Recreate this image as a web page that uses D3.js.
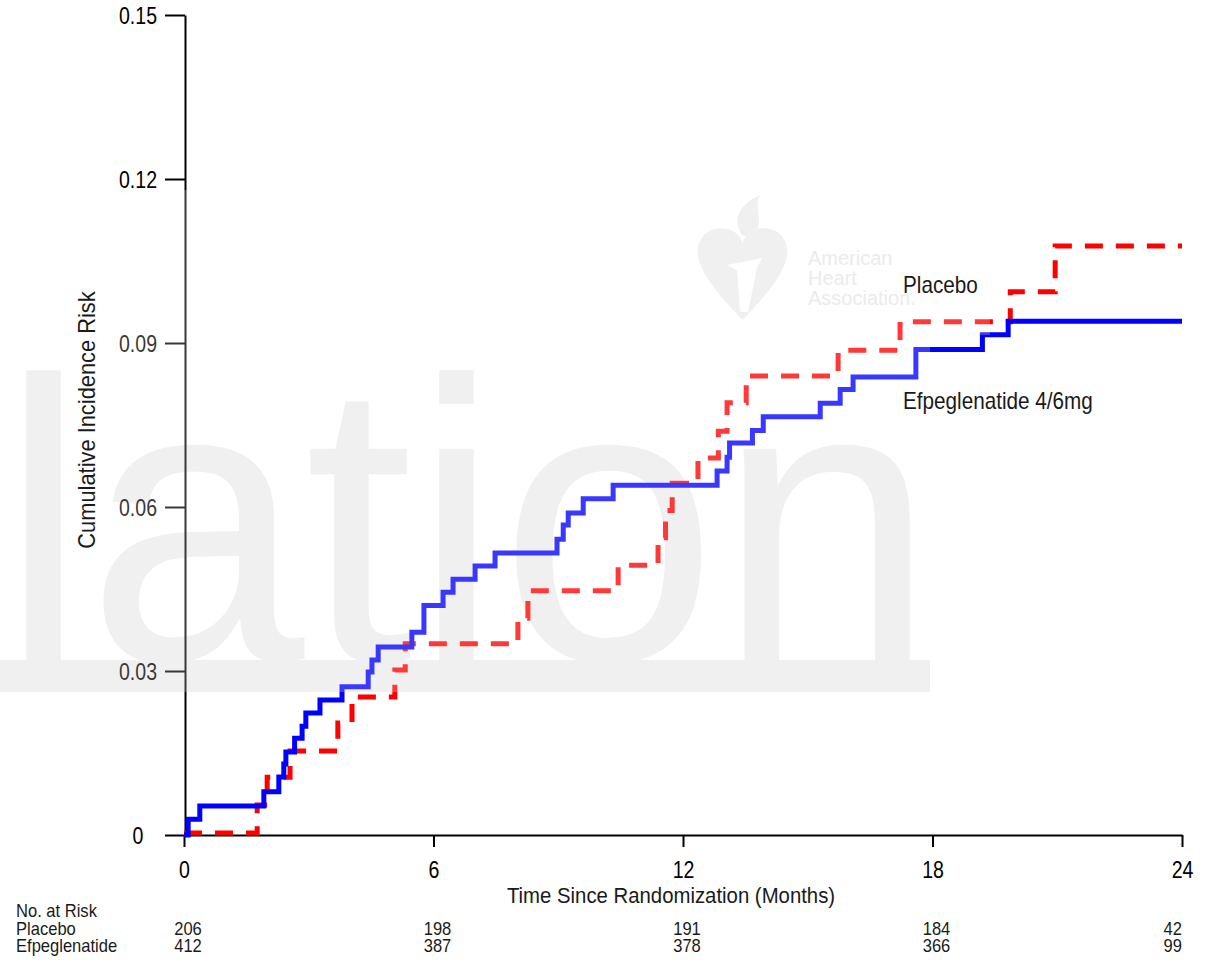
<!DOCTYPE html>
<html>
<head>
<meta charset="utf-8">
<script src="https://cdn.jsdelivr.net/npm/d3@7"></script>
<style>
  body { margin: 0; background: #fff; }
  text { font-family: "Liberation Sans", Arial, sans-serif; }
</style>
</head>
<body>
<script>
// ticks
const months = [0, 6, 12, 18, 24]
const riskTicks = [0, 0.03, 0.06, 0.09, 0.12, 0.15]

// Efpeglenatide 4/6mg (solid blue) - time in months, cumulative risk
const efpegTime = [0, 0.1, 0.38, 1.92, 2.28, 2.4, 2.45, 2.66, 2.84, 2.93, 3.27, 3.8, 4.43, 4.52, 4.67, 5.48, 5.77, 6.23, 6.47, 7.0, 7.48, 8.97, 9.12, 9.24, 9.6, 10.32, 12.82, 13.06, 13.12, 13.67, 13.93, 15.3, 15.78, 16.09, 17.6, 19.2, 19.82, 24]
const efpegRisk = [0, 0.0029, 0.0053, 0.0079, 0.0106, 0.013, 0.0152, 0.0177, 0.0199, 0.0223, 0.0247, 0.0271, 0.0298, 0.032, 0.0344, 0.0371, 0.042, 0.0444, 0.0468, 0.0492, 0.0516, 0.0541, 0.0567, 0.0589, 0.0615, 0.064, 0.0666, 0.0691, 0.0717, 0.074, 0.0765, 0.079, 0.0815, 0.0838, 0.0888, 0.0915, 0.094, 0.094]

// Placebo (dashed red)
const placeboTime = [0, 1.76, 2.0, 2.55, 3.7, 4.04, 5.07, 5.32, 8.03, 8.27, 10.44, 11.4, 11.58, 11.74, 12.36, 12.85, 13.06, 13.52, 15.73, 17.22, 19.87, 20.95, 24]
const placeboRisk = [0, 0.0051, 0.0102, 0.015, 0.0201, 0.0249, 0.0298, 0.0346, 0.0393, 0.0443, 0.049, 0.054, 0.059, 0.064, 0.0686, 0.0735, 0.0787, 0.0836, 0.0883, 0.0935, 0.099, 0.1074, 0.1074]

// number at risk table
const riskRows = ["Placebo", "Efpeglenatide"]
const placeboAtRisk = [206, 198, 191, 184, 42]
const efpegAtRisk = [412, 387, 378, 366, 99]

const W = 1214, H = 963
const svg = d3.select("body").append("svg").attr("width", W).attr("height", H)

const x = d3.scaleLinear().domain([0, 24]).range([184, 1182])
const y = d3.scaleLinear().domain([0, 0.15]).range([835, 15])

// faint watermark behind everything
const wm = svg.append("g").attr("fill", "#ececec")
wm.append("text").attr("x", 0).attr("y", 660)
    .attr("font-size", 400).attr("textLength", 935).attr("lengthAdjust", "spacingAndGlyphs")
    .text("lation")
wm.append("rect").attr("x", 0).attr("y", 660).attr("width", 930).attr("height", 32)
wm.append("path")
    .attr("transform", "translate(695,222) scale(0.95,0.98)")
    .attr("d", "M50,25 C50,5 20,0 8,15 C-5,32 5,55 50,100 C95,55 105,32 92,15 C80,0 50,5 50,25 Z")
wm.append("path")
    .attr("d", "M742,235 C732,220 738,205 760,195 C752,210 768,222 750,238 Z")
wm.append("path").attr("fill", "#fff")
    .attr("d", "M727,265 L762,258 L757,268 L748,312 L740,312 L737,270 Z")
const wmText = wm.append("g").attr("font-size", 20).attr("fill", "#e6e6e6")
;["American", "Heart", "Association."].forEach((t, i) => {
    wmText.append("text").attr("x", 808).attr("y", 265 + i * 20).text(t)
})

// axes
const yAxis = d3.axisLeft(y).tickValues(riskTicks).tickSize(20).tickSizeOuter(0)
    .tickFormat(d => d === 0 ? "0" : d3.format(".2f")(d))
const gY = svg.append("g").attr("transform", "translate(185,0)").call(yAxis)
const xAxis = d3.axisBottom(x).tickValues(months).tickSize(12).tickSizeOuter(0)
const gX = svg.append("g").attr("transform", "translate(0,835)").call(xAxis)

;[gX, gY].forEach(g => {
    g.attr("font-size", null).attr("font-family", null)
    g.select(".domain").attr("stroke", "#000").attr("stroke-width", 2)
    g.selectAll(".tick line").attr("stroke", "#000").attr("stroke-width", 2)
    g.selectAll(".tick text").attr("x", null).attr("y", null).attr("dy", null)
        .attr("text-anchor", "middle").attr("fill", "#000").attr("font-size", 23)
})
gY.selectAll(".tick text").attr("transform", "translate(-47,8) scale(0.85,1)")
gX.selectAll(".tick text").attr("transform", "translate(0,43) scale(0.85,1)")

// curves
const stepLine = d3.line().x(d => x(d[0])).y(d => y(d[1])).curve(d3.curveStepAfter)

svg.append("path")
    .datum(placeboTime.map((t, i) => [t, placeboRisk[i]]))
    .attr("d", stepLine)
    .attr("transform", "translate(0,-2)")
    .attr("fill", "none").attr("stroke", "#ff0000").attr("stroke-width", 5)
    .attr("stroke-dasharray", "18,13")

svg.append("path")
    .datum(efpegTime.map((t, i) => [t, efpegRisk[i]]))
    .attr("d", stepLine)
    .attr("fill", "none").attr("stroke", "#0000ff").attr("stroke-width", 5)

// the watermark image lightens what lies under it
svg.append("rect").attr("x", 0).attr("y", 190).attr("width", 990).attr("height", 145)
    .attr("fill", "#fff").attr("opacity", 0.22)
svg.append("rect").attr("x", 0).attr("y", 335).attr("width", 930).attr("height", 357)
    .attr("fill", "#fff").attr("opacity", 0.22)

// labels
function narrow(sel, px, py, txt, size, anchor, sx) {
    return sel.append("text")
        .attr("transform", `translate(${px},${py}) scale(${sx},1)`)
        .attr("font-size", size).attr("text-anchor", anchor || "start")
        .attr("fill", "#1a1a1a").text(txt)
}
narrow(svg, 903, 293, "Placebo", 23, "start", 0.9)
narrow(svg, 903, 409, "Efpeglenatide 4/6mg", 23, "start", 0.9)
narrow(svg, 671, 903, "Time Since Randomization (Months)", 23, "middle", 0.885)
svg.append("text")
    .attr("transform", "translate(95,420) rotate(-90) scale(0.95,1)")
    .attr("font-size", 23).attr("text-anchor", "middle").attr("fill", "#1a1a1a")
    .text("Cumulative Incidence Risk")

// number at risk
const tbl = svg.append("g")
narrow(tbl, 16, 917, "No. at Risk", 18, "start", 0.92)
const rows = [placeboAtRisk, efpegAtRisk]
rows.forEach((vals, r) => {
    const by = 935 + r * 17
    narrow(tbl, 16, by, riskRows[r], 18, "start", 0.92)
    vals.forEach((v, i) => {
        const last = i === vals.length - 1
        narrow(tbl, last ? x(months[i]) : x(months[i]) + 4, by, v, 18, last ? "end" : "middle", 0.92)
    })
})
</script>
</body>
</html>
